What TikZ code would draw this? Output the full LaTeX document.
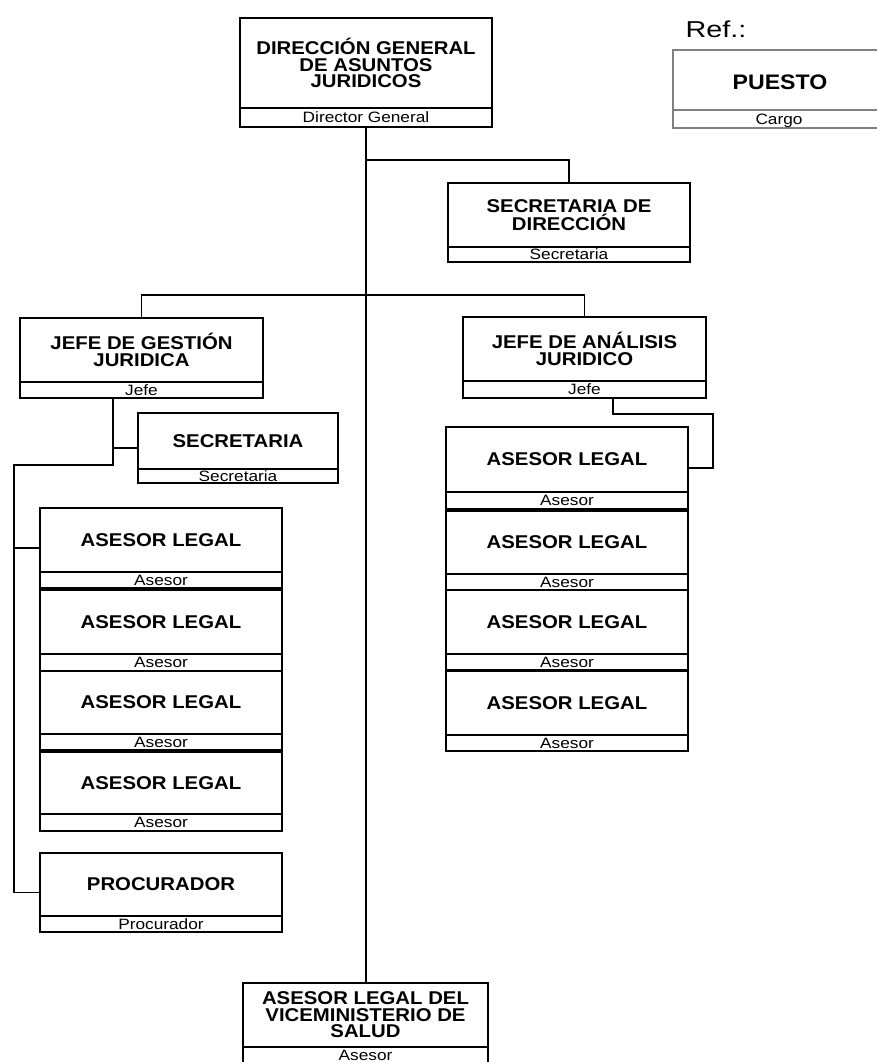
\documentclass[tikz,border=0pt]{standalone}
\usepackage{fontspec}
\setmainfont{Liberation Sans}
\newfontfamily\titlefam[FakeStretch=1.1]{Liberation Sans}
\newfontfamily\cargofam[FakeStretch=1.15]{Liberation Sans}
\newfontfamily\reffam[FakeStretch=1.25]{Liberation Sans}
\tikzset{
  boxshape/.style={draw=black, line width=1.8pt, rectangle, inner sep=0pt, outer sep=0pt},
  boxline/.style={draw=black, line width=1.8pt},
  titletext/.style={inner sep=0pt, align=center, font=\titlefam\bfseries\fontsize{18.5}{16.5}\selectfont},
  cargotext/.style={inner sep=0pt, text height=10.5pt, text depth=0pt, font=\cargofam\fontsize{15}{15}\selectfont},
  conn/.style={draw=black, line width=1.6pt},
  refline/.style={draw=black!50, line width=1.3pt},
}
\newcommand{\obox}[8]{%
  \node[boxshape, minimum width={#3-#2}, minimum height={#6-#4}] (#1) at ({(#2+#3)/2},{(#4+#6)/2}) {};
  \draw[boxline] (#2,#5) -- (#3,#5);
  \node[titletext] (#1t) at ({(#2+#3)/2},{(#4+#5)/2}) {#7};
  \node[cargotext] (#1c) at ({(#2+#3)/2},{(#5+#6)/2}) {#8};
}
\begin{document}
\begin{tikzpicture}[x=1pt,y=-1pt]
\useasboundingbox (0,0) rectangle (877,1062);
\clip (0,0) rectangle (877,1062);
\fill[white] (0,0) rectangle (877,1062);

% Reference legend
\node[inner sep=0pt, font=\reffam\fontsize{23}{23}\selectfont] (reft) at (716,29) {Ref.:};
\node[refline, rectangle, inner sep=0pt, minimum width=230, minimum height=78] (ref) at (788,89) {};
\draw[refline] (673,110) -- (903,110);
\node[inner sep=0pt, font=\titlefam\bfseries\fontsize{21}{21}\selectfont] (reftit) at (780,82) {PUESTO};
\node[cargotext] (refc) at (779,119) {Cargo};

% Boxes
\obox{dg}{240}{492}{18}{108}{127}{DIRECCIÓN GENERAL\\DE ASUNTOS\\JURIDICOS}{Director General}
\obox{sd}{448}{690}{183}{247}{262}{SECRETARIA DE\\DIRECCIÓN}{Secretaria}
\obox{jg}{20}{263}{318}{382}{398}{JEFE DE GESTIÓN\\JURIDICA}{Jefe}
\obox{ja}{463}{706}{317}{381}{398}{JEFE DE ANÁLISIS\\JURIDICO}{Jefe}
\obox{sec}{138}{338}{413}{469}{483}{SECRETARIA}{Secretaria}
\obox{la}{40}{282}{508}{572}{588}{ASESOR LEGAL}{Asesor}
\obox{lb}{40}{282}{590}{654}{671}{ASESOR LEGAL}{Asesor}
\obox{lc}{40}{282}{671}{734}{750}{ASESOR LEGAL}{Asesor}
\obox{ld}{40}{282}{752}{814}{831}{ASESOR LEGAL}{Asesor}
\obox{pr}{40}{282}{853}{916}{932}{PROCURADOR}{Procurador}
\obox{ra}{446}{688}{427}{492}{509}{ASESOR LEGAL}{Asesor}
\obox{rb}{446}{688}{511}{574}{590}{ASESOR LEGAL}{Asesor}
\obox{rc}{446}{688}{590}{654}{670}{ASESOR LEGAL}{Asesor}
\obox{rd}{446}{688}{671}{735}{751}{ASESOR LEGAL}{Asesor}
\obox{av}{243}{488}{983}{1047}{1063}{ASESOR LEGAL DEL\\VICEMINISTERIO DE\\SALUD}{Asesor}

% Junction coordinates
\coordinate (j1) at (366,160);
\coordinate (j2) at (366,295);
\coordinate (l1) at (113,465);
\coordinate (l2) at (14,465);
\coordinate (r1) at (613,414);
\coordinate (r2) at (713,414);

% Connectors
\draw[conn] (dg.south) -- (dg.south |- av.north);
\draw[conn] (j1) -| (sd.north);
\draw[conn] (jg.north) -- (jg.north |- j2) -- (ja.north |- j2) -- (ja.north);
\draw[conn] (jg.south -| l1) -- (l1) -- (l2) -- (l2 |- pr.west) -- (pr.west);
\draw[conn] (l1 |- sec.west) -- (sec.west);
\draw[conn] (l2 |- la.west) -- (la.west);
\draw[conn] (ja.south -| r1) -- (r1) -- (r2) -- (r2 |- ra.east) -- (ra.east);
\end{tikzpicture}
\end{document}
